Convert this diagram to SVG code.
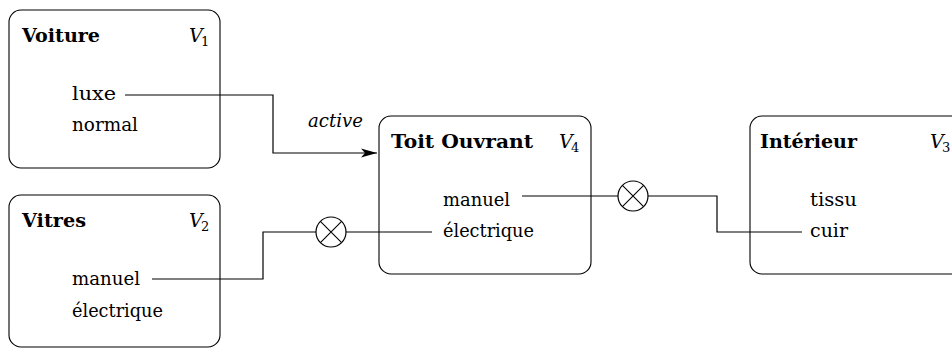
<svg xmlns="http://www.w3.org/2000/svg" width="952" height="351" viewBox="0 0 952 351">
<style>
.box{fill:none;stroke:#000;stroke-width:1.1}
text{font-family:'DejaVu Serif',serif;fill:#000}
.t{font-size:19px}
.b{font-weight:bold}
.i{font-style:italic}
.sub{font-size:13px}
.wire{fill:none;stroke:#000;stroke-width:1.2}
.op{fill:#fff;stroke:#000;stroke-width:1.2}
</style>
<defs>
<marker id="arr" markerWidth="18" markerHeight="10" refX="16" refY="5" orient="auto" markerUnits="userSpaceOnUse">
<path d="M0,0.5 L16,5 L0,9.5 L4,5 Z" fill="#000"/>
</marker>
<g id="otimes">
<circle r="15" class="op"/>
<path d="M-10.6,-10.6 L10.6,10.6 M-10.6,10.6 L10.6,-10.6" stroke="#000" stroke-width="1.1"/>
</g>
</defs>
<g id="voiture">
<rect class="box" x="9" y="10" width="211" height="158" rx="12"/>
<text class="t b" x="22" y="42" textLength="78" lengthAdjust="spacingAndGlyphs">Voiture</text>
<text class="t i" x="189" y="42">V</text><text class="sub" x="201" y="46">1</text>
<text class="t" x="72" y="100" textLength="44" lengthAdjust="spacingAndGlyphs">luxe</text>
<text class="t" x="72" y="131" textLength="66" lengthAdjust="spacingAndGlyphs">normal</text>
</g>
<g id="vitres">
<rect class="box" x="9" y="195" width="211" height="152" rx="12"/>
<text class="t b" x="22" y="227" textLength="64" lengthAdjust="spacingAndGlyphs">Vitres</text>
<text class="t i" x="189" y="227">V</text><text class="sub" x="201" y="231">2</text>
<text class="t" x="72" y="285" textLength="68" lengthAdjust="spacingAndGlyphs">manuel</text>
<text class="t" x="72" y="317" textLength="91" lengthAdjust="spacingAndGlyphs">électrique</text>
</g>
<g id="toit">
<rect class="box" x="379" y="116" width="212" height="158" rx="12"/>
<text class="t b" x="391" y="148" textLength="142" lengthAdjust="spacingAndGlyphs">Toit Ouvrant</text>
<text class="t i" x="559" y="148">V</text><text class="sub" x="571" y="152">4</text>
<text class="t" x="443" y="206" textLength="67" lengthAdjust="spacingAndGlyphs">manuel</text>
<text class="t" x="443" y="237" textLength="91" lengthAdjust="spacingAndGlyphs">électrique</text>
</g>
<g id="interieur">
<rect class="box" x="750" y="116" width="220" height="158" rx="12"/>
<text class="t b" x="760" y="148" textLength="97" lengthAdjust="spacingAndGlyphs">Intérieur</text>
<text class="t i" x="930" y="148">V</text><text class="sub" x="942" y="152">3</text>
<text class="t" x="810" y="206" textLength="47" lengthAdjust="spacingAndGlyphs">tissu</text>
<text class="t" x="810" y="237" textLength="38" lengthAdjust="spacingAndGlyphs">cuir</text>
</g>
<g id="connectors">
<path class="wire" d="M125,95 H273 V153 H377" marker-end="url(#arr)"/>
<text class="t i" x="308" y="127" textLength="55" lengthAdjust="spacingAndGlyphs">active</text>
<path class="wire" d="M152,279 H263 V232 H316"/>
<use href="#otimes" x="331" y="232"/>
<path class="wire" d="M346,232 H432"/>
<path class="wire" d="M522,196 H618"/>
<use href="#otimes" x="633" y="196"/>
<path class="wire" d="M648,196 H717 V232 H802"/>
</g>
</svg>
